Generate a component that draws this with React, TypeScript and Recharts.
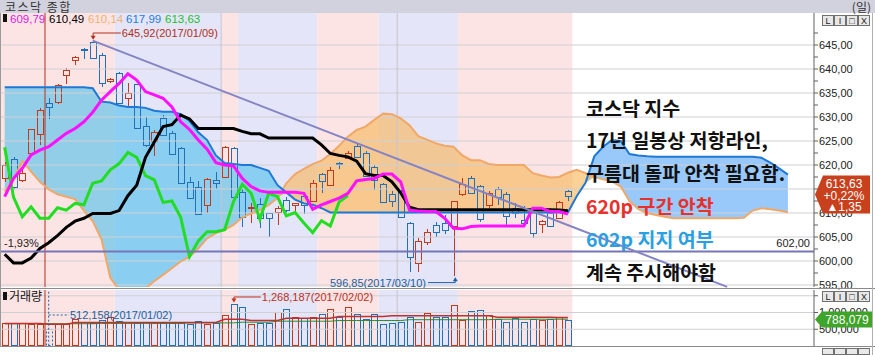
import React from "react";
import {
  Area,
  Bar,
  ComposedChart,
  Line,
  ReferenceArea,
  ReferenceDot,
  ReferenceLine,
  XAxis,
  YAxis,
} from "recharts";

// daily candles, 2016/12/23 .. 2017/03/29 (index 5 = 2017/01/02)
const opens = [
  617.2, 621.2, 616.9, 622.4, 626.4, 632.9, 633.2, 638.75, 641.9, 644.1,
  645.7, 642.9, 637.5, 639.1, 633.9, 636.8, 628.2, 624.9, 629.7, 626.6,
  623.5, 616.5, 615.5, 611.7, 616.9, 617.4, 623.5, 614.4, 611.0, 611.9,
  609.9, 610.3, 612.7, 611.7, 613.5, 612.6, 618.1, 615.8, 620.5, 621.4,
  624.0, 622.4, 619.5, 616.0, 613.9, 614.6, 607.9, 599.5, 603.9, 607.4,
  607.9, 607.2, 613.9, 617.2, 615.6, 611.7, 615.1, 614.0, 611.0, 608.5,
  610.3, 607.7, 610.1, 608.9, 614.5,
];
const highs = [
  620.7, 621.6, 619.6, 627.6, 631.8, 633.9, 636.9, 640.3, 642.7, 644.3,
  645.92, 643.3, 638.2, 639.4, 637.0, 636.9, 630.1, 627.2, 630.4, 627.0,
  623.8, 617.6, 616.7, 617.3, 618.6, 623.9, 623.7, 614.9, 612.0, 613.1,
  610.1, 611.5, 613.4, 612.1, 613.9, 616.8, 618.3, 619.6, 620.7, 622.9,
  624.5, 623.0, 620.0, 616.3, 614.6, 614.8, 608.1, 604.7, 606.6, 608.2,
  609.6, 612.5, 617.3, 617.7, 615.8, 614.6, 615.4, 614.3, 612.1, 611.5,
  610.6, 608.6, 611.0, 612.6, 614.8,
];
const lows = [
  616.5, 615.0, 616.4, 622.0, 624.2, 629.5, 632.8, 636.8, 640.8, 642.0,
  642.0, 636.3, 637.0, 632.7, 631.8, 627.4, 623.7, 621.9, 626.0, 622.0,
  616.0, 612.9, 609.6, 610.1, 615.1, 617.2, 613.0, 607.0, 608.0, 606.8,
  605.0, 607.5, 610.3, 609.6, 609.8, 612.4, 614.1, 615.6, 619.1, 621.3,
  621.4, 617.6, 614.8, 612.0, 611.3, 608.9, 597.8, 597.8, 603.3, 605.1,
  605.6, 596.85, 613.6, 613.9, 608.2, 611.0, 611.7, 607.5, 608.9, 607.7,
  604.7, 605.8, 607.0, 608.7, 612.6,
];
const closes = [
  620.0, 615.5, 618.4, 627.4, 631.5, 632.0, 636.7, 639.8, 642.4, 643.9,
  642.2, 637.0, 637.9, 632.9, 634.9, 627.8, 624.2, 626.9, 626.3, 622.3,
  616.2, 613.1, 609.7, 617.0, 616.2, 623.7, 613.3, 609.2, 611.3, 608.9,
  608.9, 611.1, 610.6, 612.0, 611.7, 616.2, 616.7, 619.0, 620.3, 622.6,
  621.6, 617.8, 616.9, 612.2, 612.5, 609.1, 600.9, 604.2, 606.1, 606.1,
  606.5, 612.4, 616.0, 614.1, 608.7, 614.1, 613.4, 609.4, 610.1, 607.9,
  605.9, 608.4, 607.3, 612.28, 613.63,
];

// ichimoku lines
const tenkan = [
  613.4, 617.2, 619.3, 622.1, 623.1, 623.8, 625.2, 626.6, 627.6, 629.0,
  631.0, 633.5, 635.3, 637.0, 639.0, 637.7, 635.3, 634.6, 633.9, 632.1,
  629.0, 627.4, 625.2, 623.3, 620.5, 620.0, 619.8, 617.2, 615.5, 614.6,
  614.3, 614.3, 614.3, 614.3, 614.1, 610.8, 611.7, 612.4, 613.1, 614.1,
  616.7, 617.0, 617.2, 618.1, 618.1, 616.5, 610.6, 610.4, 610.3, 610.3,
  608.9, 606.8, 606.7, 607.2, 607.3, 607.3, 607.3, 607.3, 607.3, 607.3,
  611.0, 611.0, 610.3, 610.3, 609.79,
];
const kijun = [
  601.4, 599.6, 599.6, 600.6, 602.6, 603.8, 605.3, 607.0, 608.3, 608.9,
  609.9, 609.9, 609.9, 610.5, 613.6, 615.8, 621.6, 624.8, 628.0, 628.4,
  630.4, 629.6, 627.6, 627.6, 627.6, 627.6, 627.6, 627.0, 626.5, 626.5,
  625.6, 625.6, 625.6, 625.6, 625.6, 625.6, 624.2, 622.4, 622.0, 621.7,
  620.8, 618.2, 617.8, 617.8, 616.5, 614.2, 611.2, 610.7, 610.7, 610.7,
  610.7, 610.7, 610.7, 610.7, 610.7, 610.7, 610.7, 610.7, 610.7, 610.7,
  610.7, 610.7, 610.7, 610.6, 610.49,
];
const spanBlue = [
  636.2, 636.2, 636.2, 636.2, 636.2, 636.2, 636.2, 636.2, 636.2, 636.2,
  636.0, 633.2, 633.0, 632.4, 632.1, 632.1, 631.9, 631.3, 631.1, 631.1,
  630.6, 629.2, 626.8, 625.2, 622.0, 620.4, 620.2, 620.0, 620.0, 619.4,
  618.8, 615.8, 614.3, 612.8, 612.0, 611.7, 611.0, 610.1, 610.1, 610.1,
  610.1, 610.1, 610.1, 610.1, 610.1, 610.1, 610.1, 610.1, 610.1, 610.1,
  610.1, 610.1, 610.1, 610.1, 610.1, 610.1, 610.1, 610.1, 610.1, 610.1,
  610.1, 610.1, 610.1, 610.1, 610.1, 613.5, 616.3, 621.8, 623.8, 625.2,
  625.0, 622.3, 622.0, 621.8, 621.7, 621.7, 621.7, 621.7, 621.7, 621.7,
  621.7, 621.7, 621.7, 621.7, 621.7, 621.7, 621.5, 620.5, 619.3, 617.99,
];
const spanOrange = [
  614.5, 617.0, 620.8, 618.6, 616.5, 614.9, 613.9, 613.4, 612.9, 610.5,
  608.3, 604.5, 596.5, 594.0, 593.3, 593.3, 594.3, 595.8, 597.1, 598.5,
  599.9, 600.9, 602.6, 604.7, 605.8, 606.5, 607.5, 609.1, 609.9, 610.6,
  611.7, 613.1, 616.2, 618.1, 619.2, 620.2, 620.9, 622.3, 624.0, 625.9,
  627.3, 628.0, 629.4, 630.7, 630.6, 629.7, 628.3, 626.0, 625.3, 624.5,
  624.0, 623.8, 622.0, 621.0, 621.0, 620.2, 620.0, 620.0, 620.0, 620.0,
  618.3, 617.8, 617.4, 617.5, 618.4, 619.0, 618.3, 617.5, 617.0, 616.6,
  615.5, 612.5, 610.8, 610.0, 609.6, 609.2, 608.9, 608.9, 608.9, 608.9,
  608.9, 608.9, 608.9, 608.9, 609.0, 610.5, 611.0, 610.8, 610.5, 610.14,
];
const lagging = [
  623.7, 613.3, 609.2, 611.3, 608.9, 608.9, 611.1, 610.6, 612.0, 611.7,
  616.2, 616.7, 619.0, 620.3, 622.6, 621.6, 617.8, 616.9, 612.2, 612.5,
  609.1, 600.9, 604.2, 606.1, 606.1, 606.5, 612.4, 616.0, 614.1, 608.7,
  614.1, 613.4, 609.4, 610.1, 607.9, 605.9, 608.4, 607.3, 612.28, 613.63,
];

// volume
const volumes = [
  677000, 680000, 680000, 670000, 650000, 512158, 670000, 670000, 796000, 726000,
  677000, 776000, 876000, 756000, 726000, 677000, 726000, 700000, 700000, 700000,
  680000, 666000, 756000, 660000, 700000, 915000, 1268187, 1170000, 666000, 677000,
  700000, 1025000, 1095000, 856000, 826000, 876000, 945000, 1095000, 876000, 1154000,
  955000, 796000, 955000, 647000, 700000, 726000, 876000, 726000, 995000, 865000,
  860000, 1224000, 776000, 1045000, 1075000, 925000, 796000, 726000, 826000, 726000,
  796000, 776000, 796000, 855000, 788079,
];
const volMaShort = [
  670000, 670000, 670000, 670000, 670000, 650000, 650000, 650000, 700000, 700000,
  700000, 700000, 700000, 700000, 700000, 700000, 700000, 700000, 700000, 700000,
  700000, 700000, 700000, 700000, 700000, 800000, 800000, 800000, 760000, 760000,
  760000, 760000, 830000, 830000, 830000, 830000, 830000, 830000, 880000, 880000,
  880000, 880000, 880000, 880000, 900000, 900000, 900000, 900000, 900000, 900000,
  900000, 900000, 900000, 900000, 900000, 900000, 860000, 860000, 860000, 860000,
  860000, 860000, 860000, 850000, 850000,
];
const volMaLong = [
  665000, 665000, 665000, 665000, 665000, 665000, 665000, 665000, 665000, 665000,
  665000, 675000, 675000, 675000, 675000, 675000, 675000, 675000, 675000, 675000,
  675000, 690000, 690000, 690000, 690000, 690000, 690000, 710000, 710000, 710000,
  710000, 740000, 740000, 740000, 740000, 740000, 740000, 740000, 760000, 760000,
  760000, 760000, 760000, 760000, 760000, 760000, 785000, 785000, 785000, 785000,
  785000, 785000, 785000, 785000, 785000, 785000, 800000, 800000, 800000, 800000,
  800000, 800000, 800000, 800000, 800000,
];

// background periods (index ranges) and month / year separators
const periods: [number, number, string][] = [
  [-0.6, 12.5, "up"], [12.5, 24.6, "down"], [24.6, 26.5, "up"], [26.5, 35.5, "down"],
  [35.5, 42.5, "up"], [42.5, 51.5, "down"], [51.5, 64.5, "up"],
];
const monthLines = [24.6, 44.6];
const yearLine = 4.58;

const priceTicks = [595, 600, 605, 610, 615, 620, 625, 630, 635, 640, 645];
const minorTicks = [597.5, 602.5, 607.5, 612.5, 617.5, 622.5, 627.5, 632.5, 637.5, 642.5, 647.5];
const volTicks = [500000, 1000000, 1500000];

const X_DOMAIN: [number, number] = [-0.534, 91.966];
const P_DOMAIN: [number, number] = [594.583, 651.667];
const V_DOMAIN: [number, number] = [0, 1671642];
const LAST = closes.length - 1;

const UP = "#c4381c";
const DOWN = "#2270b8";
const NUM_FONT = '"Liberation Sans", Arial, sans-serif';
const KR_FONT = '"Noto Sans CJK KR", "Noto Sans", sans-serif';

const rows = spanBlue.map((b, i) => {
  const a = spanOrange[i];
  const lo = Math.min(a, b);
  return {
    i,
    o: opens[i],
    c: closes[i],
    rng: i <= LAST ? [lows[i], highs[i]] : null,
    tenkan: tenkan[i],
    kijun: kijun[i],
    blue: b,
    orange: a,
    bluePast: i <= LAST ? [lo, b] : null,
    blueFuture: i >= LAST ? [lo, b] : null,
    orangeFill: [lo, a],
    lag: lagging[i],
    v: volumes[i],
    vs: volMaShort[i],
    vl: volMaLong[i],
  };
});

// 615 sits under the price tag in the original, so its label is left out
const fmtPrice = (v: number) =>
  Number.isInteger(v / 5) && v !== 615 ? v.toFixed(2).replace(".", ",") : "";

function Candle(props: any) {
  const { x, y, width, height, payload } = props;
  if (!payload || payload.o == null || payload.rng == null) return null;
  const [l, h] = payload.rng;
  const k = h > l ? height / (h - l) : 0;
  const py = (v: number) => y + (h - v) * k;
  const col = payload.c >= payload.o ? UP : DOWN;
  const cx = Math.round(x + width / 2) + 0.5;
  const top = Math.round(py(Math.max(payload.o, payload.c))) + 0.5;
  const bot = Math.max(Math.round(py(Math.min(payload.o, payload.c))) + 0.5, top + 1);
  return (
    <g>
      <line x1={cx} x2={cx} y1={Math.round(y)} y2={top} stroke={col} />
      <line x1={cx} x2={cx} y1={bot} y2={Math.round(y + height)} stroke={col} />
      <rect x={cx - 3} y={top} width={6} height={bot - top} fill="none" stroke={col} />
    </g>
  );
}

function VolBar(props: any) {
  const { x, y, width, height, payload } = props;
  if (!payload || payload.v == null) return null;
  const col = payload.c >= payload.o ? UP : DOWN;
  const cx = Math.round(x + width / 2) + 0.5;
  return (
    <rect x={cx - 3} y={Math.round(y) + 0.5} width={6} height={Math.max(Math.round(height) - 1, 1)}
      fill="none" stroke={col} strokeDasharray={payload.i === 5 ? "2 2" : undefined} />
  );
}

function Arrow(dir: "up" | "down", color: string) {
  return (p: any) => {
    const { cx, cy } = p;
    const d = dir === "down" ? -4 : 4;
    return <path d={`M${cx - 2.5},${cy + d} L${cx + 2.5},${cy + d} L${cx},${cy} Z`} fill={color} />;
  };
}

function PriceTag(p: any) {
  const vb = p.viewBox || {};
  const r = vb.x + vb.width;
  const cy = vb.y - 1;
  return (
    <g fontFamily={NUM_FONT} fontSize={12} fill="#fff" textAnchor="middle">
      <path d={`M${r + 1},${cy} L${r + 9},${cy - 19} L${r + 56},${cy - 19} L${r + 56},${cy + 19} L${r + 9},${cy + 19} Z`} fill="#c8401c" />
      <text x={r + 30} y={cy - 7}>{closes[LAST].toFixed(2).replace(".", ",")}</text>
      <text x={r + 30} y={cy + 5}>+0,22%</text>
      <text x={r + 30} y={cy + 16}>▲1,35</text>
    </g>
  );
}

function VolTag(p: any) {
  const vb = p.viewBox || {};
  const r = vb.x + vb.width;
  const cy = vb.y;
  return (
    <g fontFamily={NUM_FONT} fontSize={12} fill="#fff" textAnchor="middle">
      <path d={`M${r + 1},${cy} L${r + 8},${cy - 8} L${r + 58},${cy - 8} L${r + 58},${cy + 8} L${r + 8},${cy + 8} Z`} fill="#3fa52a" />
      <text x={r + 33} y={cy + 4.5}>{volumes[LAST].toLocaleString("en-US")}</text>
    </g>
  );
}

const bandFill = (k: string) => (k === "up" ? "#fde4e4" : "#e5e5f9");

export default function App() {
  const krLines = [
    { t: "코스닥 지수", c: "#111" },
    { t: "17년 일봉상 저항라인,", c: "#111" },
    { t: "구름대 돌파 안착 필요함.", c: "#111" },
    { t: "620p 구간 안착", c: "#e8302c" },
    { t: "602p 지지 여부", c: "#2aa0e2" },
    { t: "계속 주시해야함", c: "#111" },
  ];
  const legend = [
    { v: tenkan[LAST], c: "#e020e0", x: 10 },
    { v: kijun[LAST], c: "#000", x: 49 },
    { v: spanOrange[spanOrange.length - 1], c: "#f0b070", x: 88 },
    { v: spanBlue[spanBlue.length - 1], c: "#1e80d8", x: 126 },
    { v: lagging[lagging.length - 1], c: "#20c030", x: 165 },
  ];
  return (
    <div style={{ position: "fixed", left: 0, top: 0, width: 875, height: 355, background: "#fff", overflow: "hidden" }}>
      <div style={{ position: "absolute", left: 0, top: 0 }}>
        <ComposedChart width={875} height={290} data={rows} margin={{ top: 13, right: 6, bottom: 3, left: 0 }}>
          <XAxis type="number" dataKey="i" domain={X_DOMAIN} allowDataOverflow hide />
          <YAxis
            orientation="right"
            domain={P_DOMAIN}
            allowDataOverflow
            ticks={[...priceTicks, ...minorTicks].sort((a, b) => a - b)}
            interval={0}
            tickFormatter={fmtPrice}
            width={55}
            tickSize={4}
            tickMargin={1}
            axisLine={{ stroke: "#606060" }}
            tickLine={{ stroke: "#606060" }}
            tick={{ fontSize: 11, fill: "#222", fontFamily: NUM_FONT }}
          />
          {periods.map(([a, b, k]) => (
            <ReferenceArea key={a} x1={a} x2={b} fill={bandFill(k)} fillOpacity={1} strokeWidth={0} ifOverflow="hidden" />
          ))}
          {priceTicks.map((t) => (
            <ReferenceLine key={t} y={t} stroke="#d0d0d4" />
          ))}
          {monthLines.map((m) => (
            <ReferenceLine key={m} x={m} stroke="#c4c4cc" />
          ))}
          <ReferenceLine x={yearLine} stroke="#b03020" />
          <Area dataKey="bluePast" stroke="none" fill="#4cc0ec" fillOpacity={0.6} isAnimationActive={false} />
          <Area dataKey="blueFuture" stroke="none" fill="#94c6fa" fillOpacity={0.95} isAnimationActive={false} />
          <Area dataKey="orangeFill" stroke="none" fill="#f8b860" fillOpacity={0.65} isAnimationActive={false} />
          <Bar dataKey="rng" barSize={7} shape={Candle} isAnimationActive={false} />
          <Line dataKey="orange" stroke="#f0a868" strokeWidth={2} dot={false} isAnimationActive={false} />
          <Line dataKey="blue" stroke="#1e78d4" strokeWidth={2} dot={false} isAnimationActive={false} />
          <Line dataKey="lag" stroke="#22dd22" strokeWidth={3} dot={false} isAnimationActive={false} />
          <Line dataKey="kijun" stroke="#000" strokeWidth={3} dot={false} isAnimationActive={false} />
          <Line dataKey="tenkan" stroke="#ff10ff" strokeWidth={3} dot={false} isAnimationActive={false} />
          <ReferenceLine
            y={602}
            stroke="#7676b6"
            strokeWidth={2}
            label={{ value: "602,00", position: "insideBottomRight", offset: 4, fill: "#222", fontSize: 11, fontFamily: NUM_FONT }}
          />
          <ReferenceLine
            y={602}
            stroke="none"
            label={{ value: "-1,93%", position: "insideBottomLeft", offset: 4, fill: "#222", fontSize: 11, fontFamily: NUM_FONT }}
          />
          <ReferenceLine
            segment={[{ x: 10, y: 645.92 }, { x: 82.1, y: 594.6 }]}
            stroke="#8484c4"
            strokeWidth={2}
            ifOverflow="visible"
          />
          <ReferenceLine
            segment={[{ x: 10.05, y: 647.5 }, { x: 13.2, y: 647.5 }]}
            stroke="#b03020"
            ifOverflow="visible"
            label={{ value: "645,92(2017/01/09)", position: "right", offset: 1, fill: "#b03020", fontSize: 11, fontFamily: NUM_FONT }}
          />
          <ReferenceLine segment={[{ x: 10.05, y: 647.5 }, { x: 10.05, y: 646.4 }]} stroke="#b03020" ifOverflow="visible" />
          <ReferenceDot x={10.05} y={646.1} r={0} ifOverflow="visible" shape={Arrow("down", "#b03020")} />
          <ReferenceLine
            segment={[{ x: 48.1, y: 595.5 }, { x: 51.2, y: 595.5 }]}
            stroke="#2060a0"
            ifOverflow="visible"
            label={{ value: "596,85(2017/03/10)", position: "left", offset: 2, fill: "#2060a0", fontSize: 11, fontFamily: NUM_FONT }}
          />
          <ReferenceLine segment={[{ x: 51.2, y: 595.5 }, { x: 51.2, y: 596.3 }]} stroke="#2060a0" ifOverflow="visible" />
          <ReferenceDot x={51.2} y={596.6} r={0} ifOverflow="visible" shape={Arrow("up", "#2060a0")} />
        </ComposedChart>
      </div>
      <div style={{ position: "absolute", left: 0, top: 288 }}>
        <ComposedChart width={875} height={67} data={rows} margin={{ top: 2, right: 6, bottom: 9, left: 0 }}>
          <XAxis type="number" dataKey="i" domain={X_DOMAIN} allowDataOverflow hide />
          <YAxis
            orientation="right"
            domain={V_DOMAIN}
            allowDataOverflow
            ticks={volTicks}
            interval={0}
            tickFormatter={(v) => (v === 1500000 ? "" : Number(v).toLocaleString("en-US"))}
            width={55}
            tickSize={4}
            tickMargin={1}
            axisLine={{ stroke: "#606060" }}
            tickLine={{ stroke: "#606060" }}
            tick={{ fontSize: 11, fill: "#222", fontFamily: NUM_FONT }}
          />
          {periods.map(([a, b, k]) => (
            <ReferenceArea key={a} x1={a} x2={b} fill={bandFill(k)} fillOpacity={1} strokeWidth={0} ifOverflow="hidden" />
          ))}
          {volTicks.map((t) => (
            <ReferenceLine key={t} y={t} stroke="#d0d0d4" />
          ))}
          {monthLines.map((m) => (
            <ReferenceLine key={m} x={m} stroke="#c4c4cc" />
          ))}
          <ReferenceLine x={yearLine} stroke="#b03020" />
          <Bar dataKey="v" barSize={7} shape={VolBar} isAnimationActive={false} />
          <Line dataKey="vl" stroke="#2a8a2a" strokeWidth={1} dot={false} isAnimationActive={false} />
          <Line dataKey="vs" stroke="#c03030" strokeWidth={1.5} dot={false} isAnimationActive={false} />
          <ReferenceLine
            segment={[{ x: 26.05, y: 1462700 }, { x: 29.1, y: 1462700 }]}
            stroke="#c03020"
            ifOverflow="visible"
            label={{ value: "1,268,187(2017/02/02)", position: "right", offset: 1, fill: "#c03020", fontSize: 11, fontFamily: NUM_FONT }}
          />
          <ReferenceLine segment={[{ x: 26.05, y: 1462700 }, { x: 26.05, y: 1340000 }]} stroke="#c03020" ifOverflow="visible" />
          <ReferenceDot x={26.05} y={1300000} r={0} ifOverflow="visible" shape={Arrow("down", "#c03020")} />
          <ReferenceLine segment={[{ x: 5, y: 1620000 }, { x: 5, y: 0 }]} stroke="#2060a0" strokeDasharray="2 2" ifOverflow="visible" />
          <ReferenceLine
            segment={[{ x: 5, y: 925000 }, { x: 7.3, y: 925000 }]}
            stroke="#2060a0"
            strokeDasharray="2 2"
            ifOverflow="visible"
            label={{ value: "512,158(2017/01/02)", position: "right", offset: 1, fill: "#2060a0", fontSize: 11, fontFamily: NUM_FONT }}
          />
        </ComposedChart>
      </div>
      {/* tags drawn on top of the axes, same scales */}
      <div style={{ position: "absolute", left: 0, top: 0, pointerEvents: "none" }}>
        <ComposedChart width={875} height={290} data={rows} margin={{ top: 13, right: 61, bottom: 3, left: 0 }}>
          <XAxis type="number" dataKey="i" domain={X_DOMAIN} allowDataOverflow hide />
          <YAxis domain={P_DOMAIN} allowDataOverflow hide />
          <ReferenceLine y={closes[LAST]} stroke="none" label={<PriceTag />} />
        </ComposedChart>
      </div>
      <div style={{ position: "absolute", left: 0, top: 288, pointerEvents: "none" }}>
        <ComposedChart width={875} height={67} data={rows} margin={{ top: 2, right: 61, bottom: 9, left: 0 }}>
          <XAxis type="number" dataKey="i" domain={X_DOMAIN} allowDataOverflow hide />
          <YAxis domain={V_DOMAIN} allowDataOverflow hide />
          <ReferenceLine y={volumes[LAST]} stroke="none" label={<VolTag />} />
        </ComposedChart>
      </div>
      <svg width={875} height={355} style={{ position: "absolute", left: 0, top: 0, pointerEvents: "none" }}>
        <rect x={0} y={0} width={875} height={13} fill="#d2d2de" />
        <text x={5} y={11.5} fontFamily={KR_FONT} fontSize={12} letterSpacing={1.5} fill="#333">코스닥 종합</text>
        <text x={871} y={11.5} fontFamily={KR_FONT} fontSize={12} fill="#333" textAnchor="end">(일)</text>
        <rect x={3} y={14} width={4} height={8} fill="#111" />
        {legend.map((g) => (
          <text key={g.x} x={g.x} y={23} fontFamily={NUM_FONT} fontSize={11.5} fill={g.c}>
            {g.v.toFixed(2).replace(".", ",")}
          </text>
        ))}
        <line x1={0} x2={875} y1={288.5} y2={288.5} stroke="#8a8a8a" />
        <line x1={0} x2={875} y1={346.5} y2={346.5} stroke="#8a8a8a" />
        <line x1={0.5} x2={0.5} y1={13} y2={347} stroke="#9a9a9a" />
        <line x1={872.5} x2={872.5} y1={13} y2={355} stroke="#b0b0b0" />
        <rect x={3} y={292} width={4} height={8} fill="#111" />
        <text x={9} y={301} fontFamily={KR_FONT} fontSize={12} fill="#111">거래량</text>
        {[
          { y: 15, h: 10 },
          { y: 291, h: 10 },
          { y: 348, h: 6 },
        ].map((b) =>
          ["L", "I", "□", "X"].map((s, k) => (
            <g key={`${b.y}-${k}`}>
              <rect x={822.5 + k * 12} y={b.y + 0.5} width={11} height={b.h} fill="#e8e8e8" stroke="#707070" />
              {b.h > 8 ? (
                <text x={828 + k * 12} y={b.y + 9} fontFamily={NUM_FONT} fontSize={9} fill="#222" textAnchor="middle">{s}</text>
              ) : null}
            </g>
          ))
        )}
        {krLines.map((l, k) => (
          <text key={l.t} x={586} y={115.5 + k * 32.9} fontFamily={KR_FONT} fontWeight="bold" fontSize={19.5} fill={l.c}>
            {l.t}
          </text>
        ))}
      </svg>
    </div>
  );
}
